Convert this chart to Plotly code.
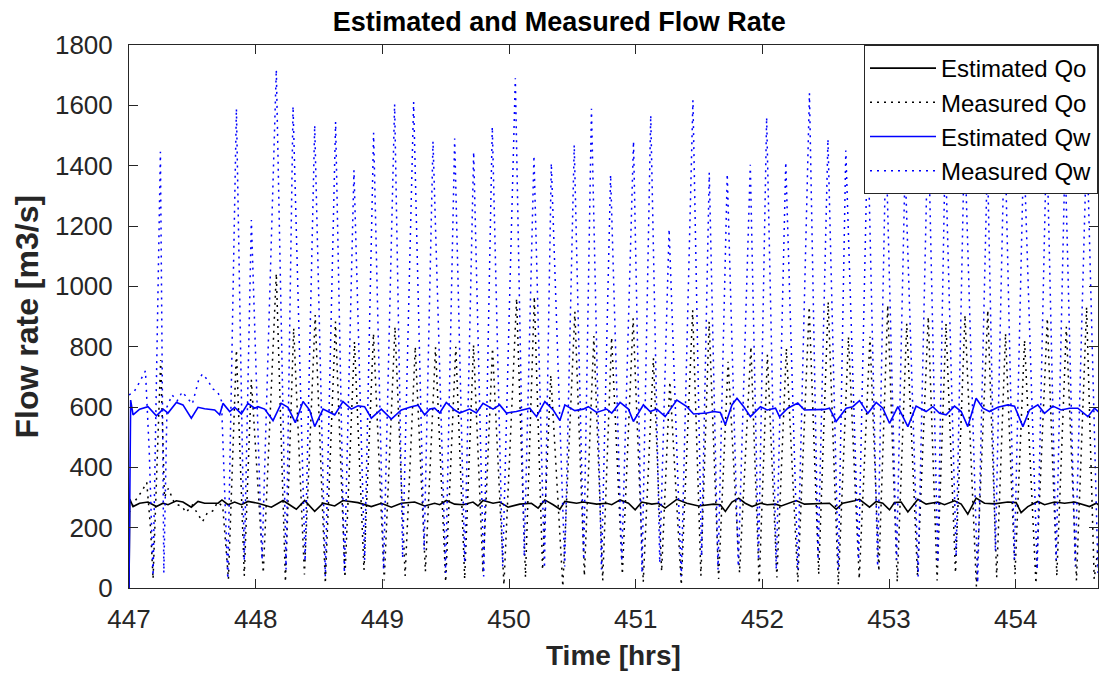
import plotly.graph_objects as go

# ---------------- data ----------------
est_qo_t = [447.0, 447.006, 447.032, 447.084, 447.15, 447.216, 447.269, 447.308, 447.374, 447.426,
            447.492, 447.545, 447.597, 447.703, 447.734, 447.782, 447.834, 447.887, 447.939, 448.018,
            448.124, 448.216, 448.321, 448.387, 448.466, 448.532, 448.624, 448.689, 448.808, 448.913,
            448.992, 449.071, 449.15, 449.255, 449.334, 449.413, 449.453, 449.505, 449.571, 449.637,
            449.716, 449.755, 449.795, 449.874, 449.927, 449.993, 450.085, 450.177, 450.23, 450.283,
            450.349, 450.402, 450.441, 450.534, 450.586, 450.692, 450.771, 450.811, 450.877, 450.943,
            450.996, 451.048, 451.127, 451.18, 451.233, 451.325, 451.404, 451.497, 451.615, 451.668,
            451.708, 451.76, 451.813, 451.865, 451.919, 451.985, 452.038, 452.104, 452.149, 452.214,
            452.267, 452.333, 452.491, 452.53, 452.583, 452.635, 452.728, 452.767, 452.846, 452.899,
            452.951, 453.004, 453.043, 453.096, 453.149, 453.228, 453.293, 453.385, 453.438, 453.517,
            453.57, 453.622, 453.688, 453.754, 453.833, 453.938, 454.004, 454.043, 454.096, 454.175,
            454.228, 454.307, 454.386, 454.465, 454.583, 454.636, 454.67]
est_qo_v = [0, 295, 270, 281, 285, 270, 281, 276, 289, 285,
            268, 287, 281, 281, 292, 276, 285, 276, 287, 281,
            268, 290, 261, 290, 254, 281, 272, 290, 283, 270,
            281, 268, 281, 285, 272, 281, 276, 290, 278, 276,
            285, 272, 290, 281, 285, 268, 278, 281, 265, 292,
            276, 261, 287, 281, 285, 278, 281, 276, 292, 281,
            259, 285, 278, 281, 265, 294, 281, 272, 278, 276,
            254, 285, 298, 281, 270, 281, 276, 278, 272, 281,
            290, 278, 281, 281, 261, 281, 289, 294, 268, 287,
            281, 259, 283, 285, 252, 294, 278, 285, 276, 289,
            278, 245, 298, 281, 279, 285, 283, 250, 270, 287,
            276, 285, 281, 285, 270, 281, 270]

est_qw_t = [447.0, 447.013, 447.032, 447.084, 447.15, 447.216, 447.269, 447.308, 447.374, 447.426,
            447.492, 447.545, 447.597, 447.677, 447.716, 447.742, 447.795, 447.834, 447.887, 447.939,
            447.992, 448.018, 448.071, 448.137, 448.202, 448.255, 448.313, 448.374, 448.426, 448.466,
            448.532, 448.624, 448.689, 448.755, 448.808, 448.86, 448.913, 448.992, 449.071, 449.15,
            449.229, 449.282, 449.334, 449.374, 449.413, 449.453, 449.505, 449.571, 449.61, 449.689,
            449.742, 449.795, 449.874, 449.927, 449.98, 450.058, 450.164, 450.217, 450.283, 450.349,
            450.402, 450.441, 450.52, 450.586, 450.626, 450.692, 450.771, 450.811, 450.877, 450.943,
            450.982, 451.061, 451.114, 451.167, 451.233, 451.325, 451.404, 451.457, 451.563, 451.615,
            451.668, 451.708, 451.76, 451.8, 451.853, 451.906, 451.985, 452.038, 452.104, 452.135,
            452.201, 452.28, 452.333, 452.412, 452.491, 452.53, 452.583, 452.662, 452.714, 452.767,
            452.833, 452.899, 452.951, 453.004, 453.07, 453.149, 453.214, 453.293, 453.346, 453.399,
            453.451, 453.517, 453.57, 453.622, 453.688, 453.741, 453.793, 453.859, 453.938, 453.991,
            454.057, 454.109, 454.175, 454.228, 454.294, 454.359, 454.425, 454.491, 454.57, 454.622,
            454.668]
est_qw_v = [0, 623, 574, 593, 601, 571, 593, 580, 615, 607,
            563, 599, 594, 590, 574, 612, 585, 599, 577, 612,
            596, 601, 593, 555, 612, 599, 548, 618, 590, 535,
            593, 574, 618, 593, 604, 601, 563, 593, 560, 590,
            601, 606, 574, 593, 596, 580, 615, 590, 580, 593,
            580, 612, 593, 607, 580, 585, 596, 568, 618, 590,
            555, 607, 588, 593, 601, 582, 593, 580, 615, 593,
            552, 607, 585, 593, 568, 623, 601, 577, 580, 585,
            582, 541, 607, 629, 601, 568, 601, 590, 596, 568,
            596, 613, 590, 592, 592, 596, 552, 596, 601, 621,
            579, 615, 596, 546, 601, 535, 603, 585, 601, 579,
            574, 603, 585, 535, 629, 596, 585, 599, 607, 603,
            535, 590, 607, 579, 603, 590, 596, 596, 568, 596,
            579]

meas_qo_t = [447.0, 447.05, 447.10, 447.14, 447.17, 447.19, 447.25, 447.28, 447.31, 447.36,
             447.42, 447.45, 447.50, 447.55, 447.58, 447.62, 447.66, 447.70, 447.74, 447.785,
             447.848, 447.91, 447.966, 448.06, 448.163, 448.235, 448.30, 448.385, 448.47, 448.55,
             448.63, 448.705, 448.78, 448.855, 448.93, 449.015, 449.10, 449.18, 449.26, 449.34,
             449.42, 449.50, 449.58, 449.65, 449.72, 449.795, 449.87, 449.96, 450.06, 450.13,
             450.20, 450.265, 450.33, 450.425, 450.52, 450.595, 450.67, 450.74, 450.81, 450.895,
             450.98, 451.06, 451.14, 451.205, 451.27, 451.36, 451.45, 451.515, 451.58, 451.655,
             451.73, 451.82, 451.91, 451.975, 452.04, 452.115, 452.19, 452.28, 452.37, 452.445,
             452.52, 452.60, 452.68, 452.765, 452.85, 452.92, 452.99, 453.065, 453.14, 453.225,
             453.31, 453.38, 453.45, 453.525, 453.60, 453.69, 453.78, 453.85, 453.92, 453.995,
             454.07, 454.16, 454.25, 454.325, 454.40, 454.48, 454.56, 454.62, 454.67]
meas_qo_v = [250, 290, 320, 350, 200, 30, 756, 300, 330, 280,
             270, 250, 275, 240, 220, 250, 255, 285, 270, 30,
             789, 40, 690, 50, 1043, 20, 862, 45, 905, 15,
             883, 35, 817, 60, 844, 25, 866, 40, 800, 55,
             798, 20, 800, 30, 806, 50, 795, 10, 960, 35,
             966, 60, 706, 5, 916, 40, 835, 25, 831, 45,
             894, 20, 762, 55, 684, 10, 921, 40, 883, 30,
             750, 50, 800, 15, 773, 35, 795, 20, 932, 45,
             949, 10, 833, 30, 833, 55, 938, 20, 877, 40,
             899, 25, 877, 50, 905, 5, 921, 35, 844, 45,
             822, 15, 894, 40, 866, 25, 932, 30, 200]

meas_qw_t = [447.0, 447.04, 447.08, 447.13, 447.16, 447.19, 447.248, 447.275, 447.30, 447.34,
             447.38, 447.42, 447.46, 447.50, 447.55, 447.58, 447.62, 447.66, 447.70, 447.73,
             447.78, 447.848, 447.91, 447.966, 448.05, 448.163, 448.24, 448.295, 448.39, 448.466,
             448.55, 448.631, 448.70, 448.776, 448.86, 448.931, 449.01, 449.097, 449.16, 449.247,
             449.33, 449.40, 449.50, 449.571, 449.65, 449.721, 449.80, 449.868, 449.95, 450.05,
             450.12, 450.197, 450.28, 450.334, 450.44, 450.515, 450.59, 450.651, 450.73, 450.802,
             450.89, 450.983, 451.05, 451.119, 451.19, 451.264, 451.36, 451.452, 451.52, 451.581,
             451.65, 451.723, 451.81, 451.905, 451.97, 452.034, 452.11, 452.185, 452.28, 452.372,
             452.44, 452.518, 452.60, 452.659, 452.76, 452.832, 452.91, 452.976, 453.06, 453.127,
             453.23, 453.309, 453.385, 453.444, 453.53, 453.596, 453.70, 453.777, 453.84, 453.913,
             453.99, 454.064, 454.17, 454.245, 454.32, 454.39, 454.47, 454.562, 454.65, 454.67]
meas_qw_v = [640, 650, 680, 720, 450, 40, 1446, 50, 600, 640,
             620, 650, 630, 610, 690, 710, 690, 660, 650, 620,
             30, 1589, 90, 1220, 93, 1718, 61, 1597, 88, 1534,
             38, 1545, 50, 1385, 93, 1509, 61, 1604, 99, 1611,
             127, 1481, 50, 1490, 83, 1446, 38, 1529, 71, 1690,
             105, 1433, 66, 1408, 71, 1469, 93, 1589, 61, 1370,
             88, 1481, 50, 1567, 83, 1190, 38, 1617, 105, 1377,
             61, 1373, 71, 1403, 93, 1560, 61, 1412, 61, 1640,
             93, 1488, 61, 1450, 93, 1520, 71, 1480, 93, 1400,
             38, 1550, 83, 1460, 105, 1500, 17, 1430, 121, 1540,
             93, 1470, 61, 1510, 93, 1440, 71, 1500, 50, 250]

x_ticks = [447, 448, 449, 450, 451, 452, 453, 454]
y_ticks = [0, 200, 400, 600, 800, 1000, 1200, 1400, 1600, 1800]
x_range = [447, 454.65]
y_range = [0, 1800]

# ---------------- figure ----------------
FONT = "Liberation Sans, Arial, Helvetica, sans-serif"
AX = "#262626"
DOT = "2px,5px"

fig = go.Figure()
fig.add_trace(go.Scatter(x=est_qo_t, y=est_qo_v, mode="lines", name="Estimated Qo",
                         line=dict(color="#000000", width=1.6)))
fig.add_trace(go.Scatter(x=meas_qo_t, y=meas_qo_v, mode="lines", name="Measured Qo",
                         line=dict(color="#000000", width=1.5, dash=DOT)))
fig.add_trace(go.Scatter(x=est_qw_t, y=est_qw_v, mode="lines", name="Estimated Qw",
                         line=dict(color="#0000FF", width=1.6)))
fig.add_trace(go.Scatter(x=meas_qw_t, y=meas_qw_v, mode="lines", name="Measured Qw",
                         line=dict(color="#0000FF", width=1.5, dash=DOT)))

axis_common = dict(showgrid=False, zeroline=False, showline=True, linecolor=AX, linewidth=1,
                   mirror="ticks", ticks="inside", ticklen=9, tickwidth=1, tickcolor=AX,
                   tickfont=dict(family=FONT, size=26, color=AX))

fig.update_xaxes(range=x_range, tickvals=x_ticks, ticktext=[str(v) for v in x_ticks],
                 ticklabelstandoff=8, **axis_common)
fig.update_yaxes(range=y_range, tickvals=y_ticks, ticktext=[str(v) for v in y_ticks],
                 ticklabelstandoff=10, **axis_common)

fig.update_layout(
    width=1101, height=673,
    margin=dict(l=129, r=3, t=45, b=85),
    paper_bgcolor="white", plot_bgcolor="white",
    font=dict(family=FONT, color=AX),
    title=dict(text="<b>Estimated and Measured Flow Rate</b>", x=0.444, xref="paper",
               xanchor="center", y=1 - 22 / 673, yanchor="middle",
               font=dict(family=FONT, size=27, color="#000000")),
    legend=dict(x=1, y=1, xanchor="right", yanchor="top", bgcolor="white",
                bordercolor=AX, borderwidth=1, font=dict(family=FONT, size=24, color="#000000"),
                tracegroupgap=0, itemwidth=66),
    showlegend=True,
    annotations=[
        dict(text="<b>Time [hrs]</b>", xref="paper", yref="paper", x=0.5, y=0,
             yshift=-67, xanchor="center", yanchor="middle", showarrow=False,
             font=dict(family=FONT, size=28, color=AX)),
        dict(text="<b>Flow rate [m3/s]</b>", xref="paper", yref="paper", x=0, y=0.5,
             xshift=-103, xanchor="center", yanchor="middle", textangle=-90, showarrow=False,
             font=dict(family=FONT, size=32, color=AX)),
    ],
)

fig.write_html("out.html")
